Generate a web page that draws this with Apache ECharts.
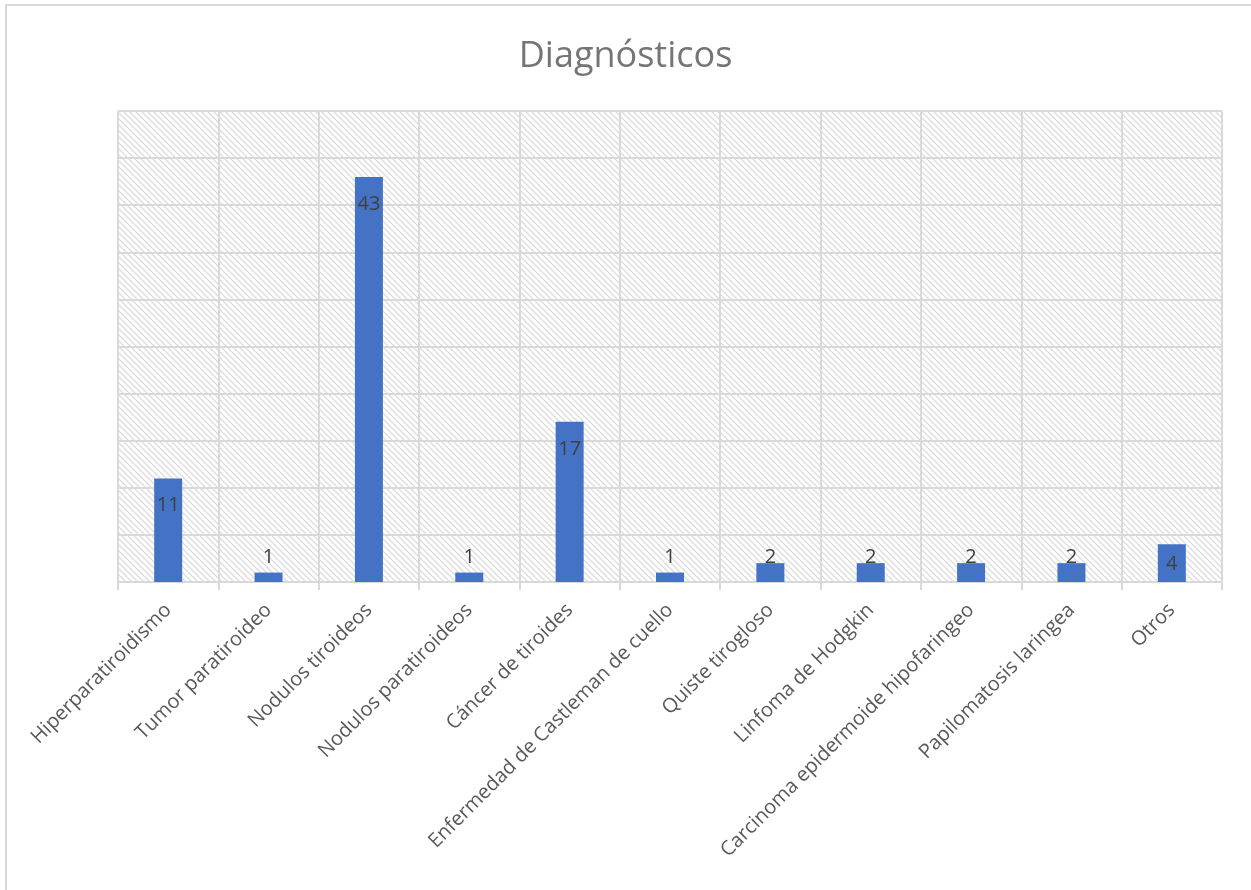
<!DOCTYPE html>
<html>
<head>
<meta charset="utf-8">
<script src="https://cdn.jsdelivr.net/npm/echarts@6/dist/echarts.min.js"></script>
<style>
  html, body { margin: 0; padding: 0; background: #ffffff; }
  #chart { width: 1251px; height: 890px; }
</style>
</head>
<body>
<div id="chart"></div>
<script>
const chartTitle = 'Diagnósticos';
const categories = [
  'Hiperparatiroidismo',
  'Tumor paratiroideo',
  'Nodulos tiroideos',
  'Nodulos paratiroideos',
  'Cáncer de tiroides',
  'Enfermedad de Castleman de cuello',
  'Quiste tirogloso',
  'Linfoma de Hodgkin',
  'Carcinoma epidermoide hipofaringeo',
  'Papilomatosis laringea',
  'Otros'
];
const counts = [11, 1, 43, 1, 17, 1, 2, 2, 2, 2, 4];

// diagonal hatch used as the plot-area fill
function hatchPattern() {
  const s = 6;
  const c = document.createElement('canvas');
  c.width = s; c.height = s;
  const g = c.getContext('2d');
  g.fillStyle = '#ffffff';
  g.fillRect(0, 0, s, s);
  g.strokeStyle = '#dcdcdc';
  g.lineWidth = 1.3;
  g.beginPath();
  g.moveTo(-1, -1); g.lineTo(s + 1, s + 1);
  g.moveTo(-1, s - 1); g.lineTo(1, s + 1);
  g.moveTo(s - 1, -1); g.lineTo(s + 1, 1);
  g.stroke();
  return c;
}

// label placement: inside the top of tall bars, lifted above the axis for short ones
function labelFor(v) {
  if (v >= 8) return { position: 'insideTop', distance: 17 };
  if (v >= 4) return { position: 'insideBottom', distance: 8 };
  return { position: 'insideBottom', distance: 15 };
}

const chart = echarts.init(document.getElementById('chart'));
chart.setOption({
  animation: false,
  backgroundColor: '#ffffff',
  title: {
    text: chartTitle,
    left: 'center',
    top: 34,
    textStyle: {
      fontFamily: 'Open Sans',
      fontSize: 36,
      fontWeight: 'normal',
      color: '#757575'
    }
  },
  graphic: [{
    type: 'rect',
    silent: true,
    z: -1,
    shape: { x: 6, y: 5, width: 1400, height: 1000 },
    style: { fill: 'none', stroke: '#d9d9d9', lineWidth: 2 }
  }],
  grid: {
    left: 118,
    right: 29,
    top: 111,
    bottom: 308,
    show: true,
    borderWidth: 0,
    backgroundColor: { image: hatchPattern(), repeat: 'repeat' }
  },
  xAxis: {
    type: 'category',
    data: categories,
    boundaryGap: true,
    axisLine: { show: true, lineStyle: { color: '#d9d9d9', width: 2 } },
    axisTick: { show: true, length: 8, alignWithLabel: false, lineStyle: { color: '#d9d9d9', width: 2 } },
    splitLine: { show: true, lineStyle: { color: '#d9d9d9', width: 2 } },
    axisLabel: {
      rotate: 45,
      interval: 0,
      margin: 25,
      fontFamily: 'Open Sans',
      fontSize: 20,
      color: '#595959'
    }
  },
  yAxis: {
    type: 'value',
    min: 0,
    max: 50,
    interval: 5,
    axisLine: { show: false },
    axisTick: { show: false },
    axisLabel: { show: false },
    splitLine: { show: true, lineStyle: { color: '#d9d9d9', width: 2 } }
  },
  series: [{
    type: 'bar',
    barWidth: 28,
    itemStyle: { color: '#4472C4' },
    label: {
      show: true,
      fontFamily: 'Open Sans',
      fontSize: 20,
      color: '#404040'
    },
    data: counts.map(v => ({ value: v, label: labelFor(v) }))
  }]
});
</script>
</body>
</html>
